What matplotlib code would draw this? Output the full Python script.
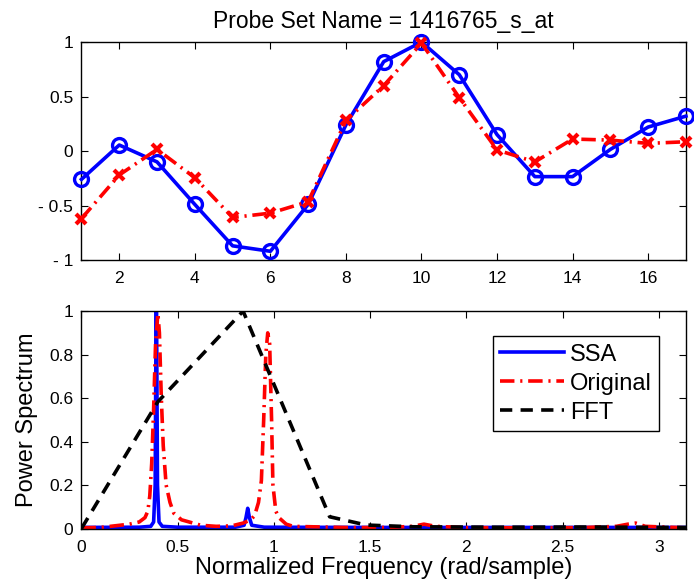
import matplotlib
matplotlib.use("Agg")
import matplotlib.pyplot as plt
import numpy as np

plt.rcParams['font.family'] = ['Liberation Sans', 'DejaVu Sans']

# top panel: time series
t = [1, 2, 3, 4, 5, 6, 7, 8, 9, 10, 11, 12, 13, 14, 15, 16, 17]
ssa_series = [-0.26, 0.055, -0.10, -0.49, -0.87, -0.92, -0.49, 0.24, 0.82, 1.0,
              0.70, 0.15, -0.235, -0.235, 0.015, 0.22, 0.32]
orig_series = [-0.62, -0.22, 0.015, -0.245, -0.61, -0.57, -0.465, 0.28, 0.60, 0.99,
               0.49, 0.01, -0.10, 0.11, 0.10, 0.07, 0.085]

# bottom panel: spectra
ssa_f = [0, 0.30, 0.36, 0.375, 0.383, 0.389, 0.395, 0.403, 0.42, 0.5, 0.8,
         0.845, 0.855, 0.864, 0.873, 0.885, 0.95, 1.5, 2.0, 2.5, 3.1416]
ssa_p = [0.005, 0.006, 0.01, 0.03, 0.2, 1.2, 0.2, 0.03, 0.01, 0.006, 0.006,
         0.015, 0.05, 0.093, 0.05, 0.015, 0.006, 0.005, 0.005, 0.005, 0.005]

orig_f = [0, 0.1, 0.2, 0.25, 0.3, 0.33, 0.345, 0.355, 0.365, 0.375, 0.385, 0.397,
          0.405, 0.415, 0.425, 0.44, 0.46, 0.48, 0.52, 0.56, 0.62, 0.7, 0.78,
          0.84, 0.88, 0.9, 0.92, 0.935, 0.947, 0.958, 0.968, 0.978, 0.988, 0.995,
          1.01, 1.026, 1.064, 1.1, 1.2, 1.4, 1.6, 1.72, 1.78, 1.84, 2.0, 2.3,
          2.6, 2.78, 2.84, 2.88, 2.93, 3.1416]
orig_p = [0.003, 0.005, 0.015, 0.02, 0.03, 0.05, 0.08, 0.15, 0.3, 0.55, 0.85, 0.99,
          0.9, 0.6, 0.38, 0.2, 0.12, 0.07, 0.04, 0.03, 0.015, 0.01, 0.012,
          0.025, 0.04, 0.06, 0.12, 0.22, 0.5, 0.8, 0.9, 0.85, 0.5, 0.2,
          0.08, 0.05, 0.02, 0.01, 0.008, 0.004, 0.005, 0.01, 0.02, 0.01, 0.004, 0.003,
          0.004, 0.01, 0.02, 0.025, 0.01, 0.003]

fft_f = [0, 0.397, 0.84, 1.29, 1.48, 1.72, 2.16, 2.6, 3.05, 3.1416]
fft_p = [0, 0.583, 1.0, 0.054, 0.016, 0.008, 0.006, 0.007, 0.005, 0.005]

fig = plt.figure(figsize=(6.94, 5.86), dpi=100)
ax1 = fig.add_axes([0.1174, 0.5563, 0.871, 0.372])
ax2 = fig.add_axes([0.1174, 0.0981, 0.871, 0.371])

ax1.plot(t, ssa_series, '-', color='blue', lw=2.6, marker='o', ms=10,
         mfc='none', mec='blue', mew=2.4, clip_on=False, zorder=3)
ax1.plot(t, orig_series, color='red', lw=2.6, ls=(0, (4, 1.6, 0.6, 1.6)),
         marker='x', ms=7, mec='red', mew=3, clip_on=False, zorder=4)
ax1.set_xlim(1, 17)
ax1.set_ylim(-1, 1)
ax1.set_xticks([2, 4, 6, 8, 10, 12, 14, 16])
ax1.set_yticks([-1, -0.5, 0, 0.5, 1])
ax1.set_yticklabels(['- 1', '- 0.5', '0', '0.5', '1'])
ax1.set_title('Probe Set Name = 1416765_s_at', fontsize=16.5, pad=10)

ax2.plot(ssa_f, ssa_p, '-', color='blue', lw=2.6, label='SSA')
ax2.plot(orig_f, orig_p, color='red', lw=2.6, ls=(0, (4, 1.6, 0.6, 1.6)),
         label='Original')
ax2.plot(fft_f, fft_p, color='black', lw=2.6, ls=(0, (3.4, 2.3)), label='FFT')
ax2.set_xlim(0, np.pi)
ax2.set_ylim(0, 1)
ax2.set_xticks([0, 0.5, 1, 1.5, 2, 2.5, 3])
ax2.set_xticklabels(['0', '0.5', '1', '1.5', '2', '2.5', '3'])
ax2.set_yticks([0, 0.2, 0.4, 0.6, 0.8, 1])
ax2.set_yticklabels(['0', '0.2', '0.4', '0.6', '0.8', '1'])
ax2.set_xlabel('Normalized Frequency (rad/sample)', fontsize=17, labelpad=2)
ax2.set_ylabel('Power Spectrum', fontsize=17, labelpad=8)
leg = ax2.legend(loc='upper right', bbox_to_anchor=(0.963, 0.905), fontsize=17,
                 fancybox=False, framealpha=1, edgecolor='black',
                 handlelength=2.7, handletextpad=0.25, borderpad=0.3,
                 labelspacing=0.3, borderaxespad=0.2)
leg.get_frame().set_linewidth(1.0)

for ax in (ax1, ax2):
    ax.tick_params(direction='in', top=True, right=True, labelsize=12.5,
                   length=5, width=0.8)
    ax.tick_params(axis='x', pad=8)
    ax.tick_params(axis='y', pad=6)
    for s in ax.spines.values():
        s.set_linewidth(1.0)

fig.savefig('out.png', dpi=100)
